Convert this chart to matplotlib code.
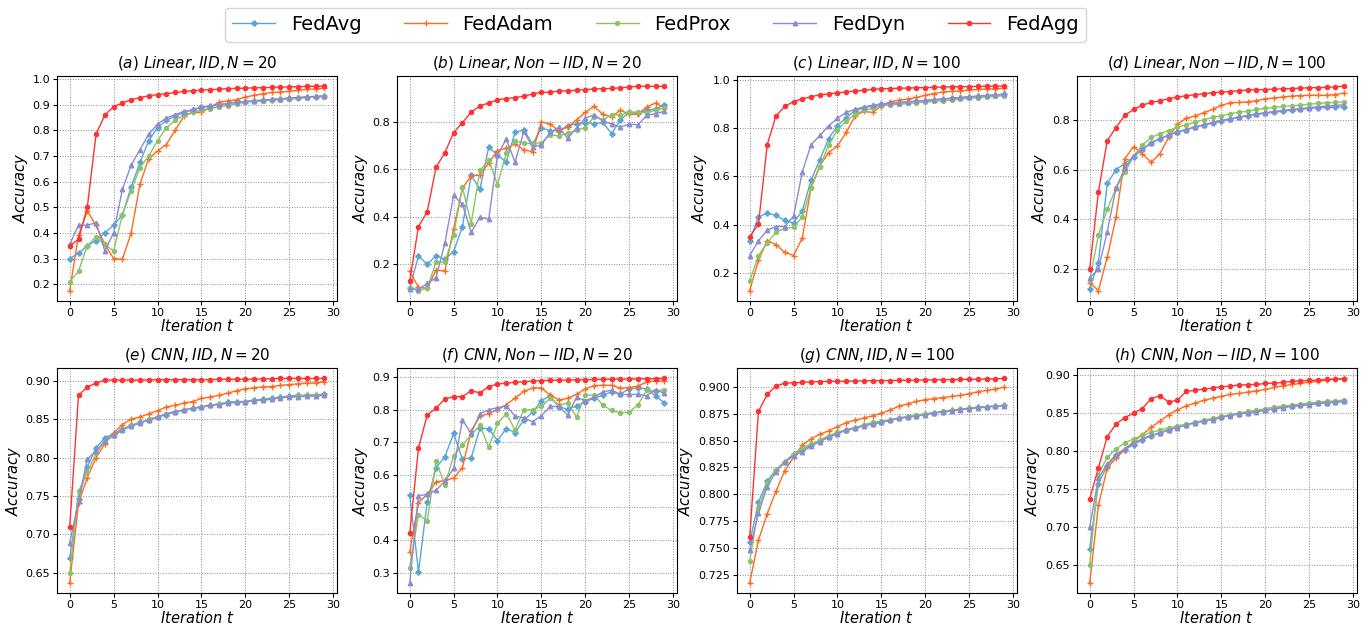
import numpy as np
import matplotlib.pyplot as plt
from matplotlib.ticker import MultipleLocator

iters = list(range(30))
methods = ["FedAvg", "FedAdam", "FedProx", "FedDyn", "FedAgg"]
titles = [r"$(a)\ Linear, IID, N=20$", r"$(b)\ Linear, Non-IID, N=20$",
          r"$(c)\ Linear, IID, N=100$", r"$(d)\ Linear, Non-IID, N=100$",
          r"$(e)\ CNN, IID, N=20$", r"$(f)\ CNN, Non-IID, N=20$",
          r"$(g)\ CNN, IID, N=100$", r"$(h)\ CNN, Non-IID, N=100$"]

# (a) Linear, IID, N=20
avg_a = [0.30, 0.32, 0.35, 0.37, 0.40, 0.43, 0.47, 0.58, 0.675, 0.76, 0.81, 0.84, 0.855, 0.87, 0.88,
         0.89, 0.895, 0.90, 0.905, 0.91, 0.912, 0.915, 0.917, 0.92, 0.922, 0.925, 0.927, 0.93, 0.932, 0.934]
adam_a = [0.175, 0.39, 0.485, 0.43, 0.355, 0.30, 0.297, 0.40, 0.59, 0.69, 0.72, 0.745, 0.80, 0.855, 0.87,
          0.87, 0.89, 0.91, 0.915, 0.92, 0.93, 0.937, 0.943, 0.948, 0.95, 0.953, 0.956, 0.96, 0.962, 0.965]
prox_a = [0.21, 0.25, 0.35, 0.385, 0.355, 0.33, 0.47, 0.565, 0.655, 0.70, 0.76, 0.81, 0.84, 0.86, 0.87,
          0.88, 0.885, 0.893, 0.897, 0.905, 0.91, 0.913, 0.915, 0.918, 0.92, 0.923, 0.925, 0.928, 0.93, 0.932]
dyn_a = [0.355, 0.43, 0.43, 0.44, 0.33, 0.40, 0.57, 0.665, 0.725, 0.785, 0.825, 0.848, 0.862, 0.873, 0.882,
         0.89, 0.895, 0.90, 0.905, 0.91, 0.913, 0.916, 0.918, 0.921, 0.924, 0.926, 0.929, 0.931, 0.933, 0.935]
agg_a = [0.35, 0.375, 0.50, 0.785, 0.86, 0.893, 0.907, 0.92, 0.928, 0.935, 0.94, 0.943, 0.948, 0.952, 0.955,
         0.957, 0.959, 0.961, 0.963, 0.964, 0.965, 0.966, 0.967, 0.968, 0.969, 0.970, 0.971, 0.972, 0.972, 0.973]

# (b) Linear, Non-IID, N=20
avg_b = [0.10, 0.235, 0.20, 0.237, 0.221, 0.254, 0.359, 0.575, 0.516, 0.693, 0.66, 0.631, 0.755, 0.766, 0.706,
         0.773, 0.763, 0.762, 0.783, 0.792, 0.796, 0.792, 0.797, 0.75, 0.808, 0.839, 0.836, 0.848, 0.853, 0.872]
adam_b = [0.172, 0.103, 0.10, 0.176, 0.172, 0.349, 0.52, 0.572, 0.577, 0.626, 0.679, 0.688, 0.707, 0.682, 0.674,
          0.80, 0.79, 0.762, 0.778, 0.808, 0.839, 0.865, 0.831, 0.821, 0.849, 0.831, 0.832, 0.862, 0.879, 0.858]
prox_b = [0.10, 0.09, 0.10, 0.21, 0.209, 0.324, 0.525, 0.372, 0.595, 0.64, 0.535, 0.667, 0.719, 0.711, 0.708,
          0.712, 0.745, 0.741, 0.751, 0.766, 0.775, 0.822, 0.808, 0.829, 0.829, 0.839, 0.842, 0.836, 0.85, 0.858]
dyn_b = [0.097, 0.095, 0.12, 0.144, 0.289, 0.49, 0.453, 0.335, 0.398, 0.39, 0.66, 0.727, 0.63, 0.759, 0.693,
         0.703, 0.755, 0.776, 0.73, 0.773, 0.815, 0.829, 0.804, 0.79, 0.778, 0.79, 0.787, 0.827, 0.834, 0.844]
agg_b = [0.131, 0.359, 0.422, 0.609, 0.669, 0.754, 0.796, 0.84, 0.867, 0.879, 0.893, 0.897, 0.902, 0.907, 0.917,
         0.924, 0.924, 0.93, 0.93, 0.933, 0.935, 0.938, 0.939, 0.94, 0.943, 0.946, 0.95, 0.949, 0.949, 0.949]

# (c) Linear, IID, N=100
avg_c = [0.335, 0.433, 0.448, 0.439, 0.418, 0.407, 0.459, 0.586, 0.67, 0.757, 0.81, 0.844, 0.872, 0.884, 0.892,
         0.898, 0.903, 0.905, 0.908, 0.911, 0.914, 0.917, 0.92, 0.923, 0.926, 0.929, 0.931, 0.934, 0.937, 0.94]
adam_c = [0.128, 0.253, 0.335, 0.318, 0.286, 0.273, 0.346, 0.556, 0.645, 0.699, 0.727, 0.782, 0.851, 0.869, 0.865,
          0.892, 0.909, 0.916, 0.92, 0.927, 0.936, 0.943, 0.95, 0.952, 0.954, 0.958, 0.96, 0.962, 0.963, 0.965]
prox_c = [0.167, 0.273, 0.325, 0.37, 0.385, 0.39, 0.433, 0.553, 0.64, 0.73, 0.793, 0.83, 0.858, 0.873, 0.882,
          0.892, 0.896, 0.899, 0.902, 0.905, 0.908, 0.911, 0.914, 0.917, 0.92, 0.923, 0.926, 0.929, 0.932, 0.935]
dyn_c = [0.273, 0.334, 0.378, 0.393, 0.393, 0.436, 0.62, 0.732, 0.77, 0.81, 0.841, 0.865, 0.878, 0.888, 0.895,
         0.90, 0.903, 0.906, 0.909, 0.912, 0.915, 0.918, 0.921, 0.924, 0.927, 0.93, 0.933, 0.936, 0.938, 0.94]
agg_c = [0.35, 0.403, 0.732, 0.851, 0.89, 0.91, 0.921, 0.93, 0.938, 0.942, 0.946, 0.95, 0.954, 0.957, 0.96,
         0.963, 0.964, 0.965, 0.966, 0.967, 0.968, 0.969, 0.97, 0.971, 0.972, 0.972, 0.973, 0.973, 0.974, 0.974]

# (d) Linear, Non-IID, N=100
avg_d = [0.12, 0.226, 0.545, 0.60, 0.625, 0.652, 0.682, 0.707, 0.725, 0.74, 0.752, 0.76, 0.772, 0.779, 0.788,
         0.795, 0.804, 0.811, 0.817, 0.823, 0.827, 0.832, 0.836, 0.84, 0.843, 0.847, 0.85, 0.851, 0.852, 0.854]
adam_d = [0.145, 0.113, 0.247, 0.408, 0.644, 0.693, 0.664, 0.63, 0.664, 0.73, 0.784, 0.807, 0.817, 0.83, 0.843,
          0.859, 0.87, 0.871, 0.874, 0.878, 0.886, 0.889, 0.893, 0.897, 0.899, 0.90, 0.90, 0.90, 0.903, 0.909]
prox_d = [0.155, 0.337, 0.44, 0.525, 0.589, 0.655, 0.699, 0.73, 0.745, 0.758, 0.772, 0.781, 0.792, 0.801, 0.811,
          0.817, 0.826, 0.831, 0.836, 0.843, 0.847, 0.851, 0.855, 0.858, 0.86, 0.864, 0.867, 0.87, 0.871, 0.874]
dyn_d = [0.165, 0.20, 0.35, 0.527, 0.605, 0.655, 0.682, 0.709, 0.726, 0.738, 0.753, 0.762, 0.773, 0.781, 0.791,
         0.799, 0.805, 0.812, 0.819, 0.825, 0.83, 0.835, 0.839, 0.843, 0.846, 0.85, 0.854, 0.856, 0.859, 0.862]
agg_d = [0.20, 0.511, 0.717, 0.77, 0.819, 0.843, 0.86, 0.871, 0.878, 0.886, 0.893, 0.898, 0.902, 0.906, 0.91,
         0.913, 0.915, 0.919, 0.921, 0.922, 0.923, 0.925, 0.926, 0.927, 0.929, 0.93, 0.931, 0.932, 0.934, 0.937]

# (e) CNN, IID, N=20
avg_e = [0.67, 0.746, 0.788, 0.813, 0.826, 0.831, 0.837, 0.842, 0.846, 0.849, 0.853, 0.856, 0.859, 0.862, 0.864,
         0.866, 0.868, 0.87, 0.872, 0.873, 0.873, 0.875, 0.876, 0.877, 0.879, 0.88, 0.881, 0.881, 0.882, 0.8825]
adam_e = [0.637, 0.741, 0.774, 0.80, 0.818, 0.832, 0.843, 0.85, 0.853, 0.857, 0.861, 0.866, 0.868, 0.871, 0.873,
          0.877, 0.879, 0.881, 0.884, 0.887, 0.8895, 0.891, 0.892, 0.8925, 0.894, 0.895, 0.896, 0.897, 0.897, 0.899]
prox_e = [0.65, 0.756, 0.781, 0.806, 0.821, 0.828, 0.836, 0.842, 0.845, 0.85, 0.853, 0.857, 0.86, 0.862, 0.864,
          0.866, 0.868, 0.87, 0.871, 0.872, 0.873, 0.874, 0.875, 0.876, 0.878, 0.879, 0.88, 0.881, 0.881, 0.882]
dyn_e = [0.689, 0.744, 0.798, 0.809, 0.822, 0.83, 0.836, 0.841, 0.845, 0.849, 0.853, 0.857, 0.86, 0.862, 0.864,
         0.866, 0.868, 0.869, 0.871, 0.872, 0.873, 0.874, 0.875, 0.876, 0.878, 0.879, 0.879, 0.88, 0.88, 0.881]
agg_e = [0.71, 0.881, 0.892, 0.897, 0.901, 0.901, 0.901, 0.901, 0.901, 0.901, 0.9015, 0.9015, 0.9015, 0.9015, 0.9015,
         0.9015, 0.9015, 0.902, 0.902, 0.902, 0.902, 0.902, 0.9025, 0.9025, 0.903, 0.903, 0.903, 0.903, 0.903, 0.903]

# (f) CNN, Non-IID, N=20
avg_f = [0.538, 0.302, 0.518, 0.622, 0.655, 0.727, 0.648, 0.652, 0.743, 0.742, 0.705, 0.742, 0.73, 0.768, 0.792,
         0.828, 0.843, 0.808, 0.802, 0.812, 0.825, 0.835, 0.845, 0.855, 0.848, 0.865, 0.867, 0.864, 0.843, 0.821]
adam_f = [0.362, 0.515, 0.54, 0.578, 0.583, 0.59, 0.622, 0.735, 0.78, 0.788, 0.80, 0.815, 0.836, 0.856, 0.867,
          0.867, 0.845, 0.83, 0.835, 0.847, 0.864, 0.874, 0.875, 0.875, 0.866, 0.868, 0.873, 0.885, 0.888, 0.888]
prox_f = [0.315, 0.478, 0.458, 0.642, 0.57, 0.657, 0.692, 0.722, 0.752, 0.685, 0.758, 0.788, 0.738, 0.80, 0.80,
          0.81, 0.835, 0.815, 0.82, 0.778, 0.845, 0.845, 0.814, 0.798, 0.79, 0.793, 0.815, 0.86, 0.857, 0.862]
dyn_f = [0.268, 0.536, 0.54, 0.553, 0.58, 0.62, 0.768, 0.728, 0.788, 0.80, 0.806, 0.812, 0.78, 0.775, 0.763,
         0.782, 0.81, 0.81, 0.783, 0.838, 0.828, 0.838, 0.855, 0.86, 0.847, 0.847, 0.847, 0.843, 0.862, 0.85]
agg_f = [0.42, 0.682, 0.784, 0.805, 0.833, 0.84, 0.84, 0.858, 0.852, 0.871, 0.879, 0.882, 0.884, 0.886, 0.888,
         0.889, 0.89, 0.891, 0.891, 0.892, 0.892, 0.893, 0.893, 0.894, 0.894, 0.894, 0.895, 0.895, 0.895, 0.896]

# (g) CNN, IID, N=100
avg_g = [0.7554, 0.7925, 0.8125, 0.823, 0.83, 0.8373, 0.8413, 0.846, 0.8496, 0.8536, 0.857, 0.86, 0.862, 0.864, 0.8657,
         0.867, 0.869, 0.8706, 0.872, 0.873, 0.8743, 0.8755, 0.8768, 0.878, 0.879, 0.88, 0.881, 0.8815, 0.882, 0.8827]
adam_g = [0.7177, 0.7575, 0.782, 0.803, 0.822, 0.8345, 0.846, 0.8515, 0.856, 0.859, 0.863, 0.8667, 0.869, 0.871, 0.873,
          0.8753, 0.8784, 0.882, 0.884, 0.8864, 0.888, 0.889, 0.89, 0.891, 0.892, 0.8935, 0.8954, 0.8966, 0.8978, 0.8997]
prox_g = [0.7384, 0.7872, 0.8104, 0.823, 0.8305, 0.8376, 0.8434, 0.8465, 0.8505, 0.8545, 0.8575, 0.86, 0.862, 0.8645, 0.867,
          0.868, 0.8695, 0.871, 0.8725, 0.8735, 0.875, 0.876, 0.877, 0.878, 0.879, 0.8798, 0.8807, 0.8815, 0.882, 0.8827]
dyn_g = [0.7486, 0.7826, 0.8073, 0.8212, 0.83, 0.836, 0.8397, 0.845, 0.849, 0.853, 0.8565, 0.8595, 0.8615, 0.8635, 0.8655,
         0.8672, 0.869, 0.8705, 0.8718, 0.873, 0.8742, 0.8755, 0.8767, 0.8778, 0.8788, 0.8797, 0.8806, 0.8813, 0.882, 0.8825]
agg_g = [0.76, 0.877, 0.893, 0.9006, 0.9034, 0.9037, 0.904, 0.9046, 0.9048, 0.905, 0.905, 0.9052, 0.9053, 0.9055, 0.9056,
         0.9057, 0.9058, 0.906, 0.906, 0.9062, 0.9063, 0.9064, 0.9065, 0.9067, 0.9068, 0.9069, 0.907, 0.9072, 0.9074, 0.9077]

# (h) CNN, Non-IID, N=100
avg_h = [0.6715, 0.757, 0.7807, 0.7943, 0.8018, 0.8083, 0.815, 0.8202, 0.8237, 0.8281, 0.8311, 0.8346, 0.8373, 0.8395, 0.8417,
         0.8447, 0.8469, 0.8491, 0.8504, 0.8522, 0.8539, 0.8557, 0.8575, 0.8592, 0.86, 0.8614, 0.8627, 0.8636, 0.8645, 0.8654]
adam_h = [0.6263, 0.7285, 0.7776, 0.7908, 0.8018, 0.8127, 0.8215, 0.8311, 0.8395, 0.8478, 0.8544, 0.8596, 0.8632, 0.8667, 0.8697,
          0.872, 0.8746, 0.8759, 0.8776, 0.8794, 0.8811, 0.8838, 0.886, 0.8877, 0.889, 0.8908, 0.8917, 0.8934, 0.8947, 0.8956]
prox_h = [0.6504, 0.769, 0.7921, 0.8026, 0.8105, 0.8162, 0.8206, 0.8246, 0.8276, 0.8303, 0.8333, 0.835, 0.8377, 0.8404, 0.843,
          0.8456, 0.8478, 0.85, 0.8522, 0.8535, 0.8557, 0.8579, 0.8592, 0.8605, 0.8618, 0.8632, 0.8645, 0.8654, 0.8662, 0.8671]
dyn_h = [0.6996, 0.7645, 0.7829, 0.7952, 0.8031, 0.8105, 0.8162, 0.8206, 0.8237, 0.828, 0.831, 0.8345, 0.8372, 0.8395, 0.8415,
         0.8445, 0.8468, 0.849, 0.8505, 0.852, 0.8537, 0.8555, 0.8573, 0.859, 0.86, 0.8612, 0.8627, 0.8637, 0.8646, 0.8655]
agg_h = [0.737, 0.778, 0.819, 0.8355, 0.844, 0.85, 0.856, 0.869, 0.873, 0.8645, 0.867, 0.8785, 0.88, 0.8816, 0.883,
         0.8846, 0.8855, 0.887, 0.8873, 0.8877, 0.889, 0.8895, 0.8904, 0.8917, 0.8925, 0.893, 0.8934, 0.8943, 0.8947, 0.895]

panels = [
    [avg_a, adam_a, prox_a, dyn_a, agg_a],
    [avg_b, adam_b, prox_b, dyn_b, agg_b],
    [avg_c, adam_c, prox_c, dyn_c, agg_c],
    [avg_d, adam_d, prox_d, dyn_d, agg_d],
    [avg_e, adam_e, prox_e, dyn_e, agg_e],
    [avg_f, adam_f, prox_f, dyn_f, agg_f],
    [avg_g, adam_g, prox_g, dyn_g, agg_g],
    [avg_h, adam_h, prox_h, dyn_h, agg_h],
]
ysteps = [0.1, 0.2, 0.2, 0.2, 0.05, 0.1, 0.025, 0.05]

colors = ["#5aa6d8", "#ff6a1c", "#8cc464", "#8c8ccf", "#ff3333"]
markers = ["P", "+", "o", "^", "o"]
msizes = [3.5, 4.5, 2.8, 3.2, 3.0]

fig, axes = plt.subplots(2, 4, figsize=(13.7, 6.27), dpi=100)
fig.subplots_adjust(left=0.0416, right=0.9905, top=0.879, bottom=0.054, wspace=0.214, hspace=0.30)

for ax, series, title, step in zip(axes.flat, panels, titles, ysteps):
    for vals, name, c, m, ms in zip(series, methods, colors, markers, msizes):
        ax.plot(iters, vals, color=c, marker=m, markersize=ms, lw=1.0, label=name)
    ax.set_title(title, fontsize=11)
    ax.set_xlabel(r"$Iteration\ t$", fontsize=10.5, labelpad=0)
    ax.set_ylabel(r"$Accuracy$", fontsize=10.5, labelpad=2)
    ax.xaxis.set_major_locator(MultipleLocator(5))
    ax.yaxis.set_major_locator(MultipleLocator(step))
    ax.tick_params(labelsize=8, length=3, pad=2)
    ax.grid(True, ls=":", color="0.55", lw=0.7)

handles, labels = axes[0, 0].get_legend_handles_labels()
fig.legend(handles, labels, loc="upper center", bbox_to_anchor=(0.4785, 0.988), ncol=5,
           fontsize=14, handlelength=2.2, columnspacing=2.2, borderaxespad=0, frameon=True)

fig.savefig("out.png", dpi=100)
